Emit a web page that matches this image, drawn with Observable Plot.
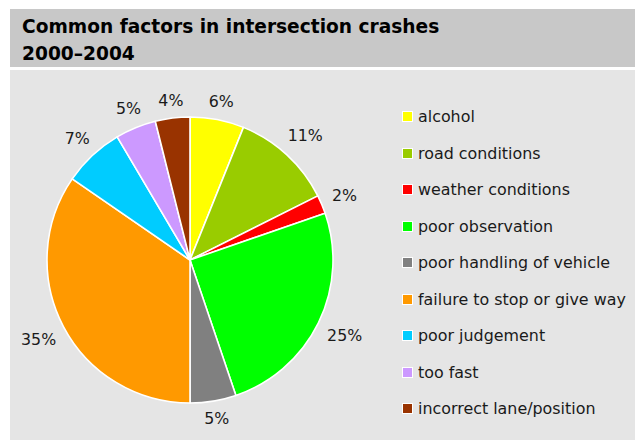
<!DOCTYPE html>
<html><head><meta charset="utf-8">
<script src="https://cdn.jsdelivr.net/npm/d3@7"></script>
<script src="https://cdn.jsdelivr.net/npm/@observablehq/plot@0.6"></script>
<style>
body{margin:0;background:#fff;width:635px;height:440px;overflow:hidden;position:relative;font-family:"DejaVu Sans",Verdana,sans-serif;}
#title{position:absolute;left:10px;top:9px;width:625px;height:58px;background:#c8c8c8;}
#title div{position:absolute;left:12px;top:3.5px;font-weight:bold;font-size:18.6px;line-height:27.5px;color:#000;white-space:nowrap;}
#panel{position:absolute;left:10px;top:70px;width:625px;height:370px;background:#e5e5e5;}
#chart{position:absolute;left:0;top:0;}
.row{position:absolute;left:392px;height:20px;display:flex;align-items:center;font-size:15.9px;color:#1a1a1a;white-space:nowrap;}
.sw{width:9px;height:9px;border:1.5px solid #fff;margin-right:5px;}
</style>
</head><body>
<div id="title"><div>Common factors in intersection crashes<br>2000–2004</div></div>
<div id="panel"><div id="chart"></div><div id="legend"></div></div>
<script>
const categories = ["alcohol","road conditions","weather conditions","poor observation","poor handling of vehicle","failure to stop or give way","poor judgement","too fast","incorrect lane/position"];
const values = [6.1, 11.5, 2.1, 25.1, 5.2, 34.6, 6.9, 4.6, 3.9];
const labels = ["6%","11%","2%","25%","5%","35%","7%","5%","4%"];
const colors = ["#ffff00","#99cc00","#ff0000","#00ff00","#808080","#ff9900","#00ccff","#cc99ff","#993300"];

const data = categories.map((c, i) => ({category: c, value: values[i], label: labels[i], color: colors[i]}));
const arcs = d3.pie().sort(null).value(d => d.value)(data);

const R = 143, CX = 180, CY = 190;
const FS = 15.8;
const ctx = document.createElement("canvas").getContext("2d");
ctx.font = FS + "px 'DejaVu Sans'";
const labelData = arcs.map(a => {
  const mid = (a.startAngle + a.endAngle) / 2;
  const w = ctx.measureText(a.data.label).width;
  const h = 11;
  const r = R + 10.5 + Math.abs(Math.sin(mid)) * w / 2 + Math.abs(Math.cos(mid)) * h / 2;
  return {x: Math.sin(mid) * r / R, y: Math.cos(mid) * r / R, label: a.data.label};
});

function pieMark(index, scales) {
  const x0 = scales.x(0), y0 = scales.y(0), rr = scales.x(1) - scales.x(0);
  const g = d3.create("svg:g").attr("transform", `translate(${x0},${y0})`);
  const arc = d3.arc().innerRadius(0).outerRadius(rr);
  g.selectAll("path").data(arcs).join("path")
    .attr("d", arc)
    .attr("fill", d => d.data.color)
    .attr("stroke", "#fff")
    .attr("stroke-width", 1.6)
    .attr("stroke-linejoin", "round");
  return g.node();
}

const chart = Plot.plot({
  width: 390, height: 370, margin: 0,
  x: {domain: [-1, 1], range: [CX - R, CX + R], axis: null},
  y: {domain: [-1, 1], range: [CY + R, CY - R], axis: null},
  style: {background: "transparent", overflow: "visible", fontFamily: "'DejaVu Sans', Verdana, sans-serif"},
  marks: [
    pieMark,
    Plot.text(labelData, {x: "x", y: "y", text: "label", fontSize: FS, fill: "#1a1a1a"})
  ]
});
document.getElementById("chart").appendChild(chart);

const legend = document.getElementById("legend");
categories.forEach((c, i) => {
  const row = document.createElement("div");
  row.className = "row";
  row.style.top = (46.5 + i * 36.5 - 10) + "px";
  const sw = document.createElement("span");
  sw.className = "sw";
  sw.style.background = colors[i];
  const t = document.createElement("span");
  t.textContent = c;
  row.appendChild(sw); row.appendChild(t);
  legend.appendChild(row);
});
</script>
</body></html>
